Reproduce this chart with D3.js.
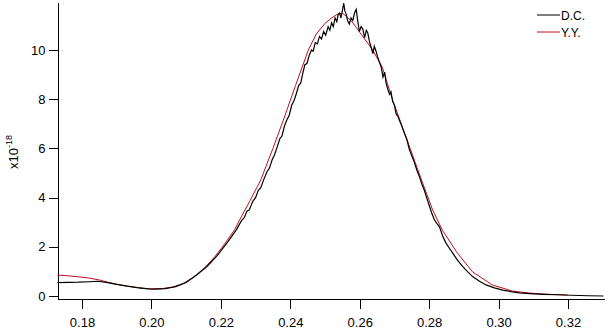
<!DOCTYPE html>
<html>
<head>
<meta charset="utf-8">
<script src="https://cdn.jsdelivr.net/npm/d3@7"></script>
<style>
  body { margin: 0; background: #fff; }
  svg { display: block; font-family: "Liberation Sans", Arial, sans-serif; }
  .axis path, .axis line { stroke: #000; shape-rendering: crispEdges; }
  .axis text { fill: #000; font-size: 13px; }
</style>
</head>
<body>
<svg id="chart"></svg>
<script>
const xTicks = [0.18, 0.20, 0.22, 0.24, 0.26, 0.28, 0.30, 0.32];
const yTicks = [0, 2, 4, 6, 8, 10];

// D.C. (black, noisy)
const dcX = [0.1729, 0.176, 0.179, 0.182, 0.1845, 0.187, 0.190, 0.193, 0.196, 0.199,
  0.201, 0.204, 0.207, 0.210, 0.213, 0.216, 0.219, 0.222, 0.2245, 0.2259,
  0.2268, 0.2275, 0.2282, 0.2292, 0.2300, 0.2308, 0.2315, 0.2324, 0.2333, 0.2340,
  0.2348, 0.2355, 0.2362, 0.2370, 0.2376, 0.2383, 0.2390, 0.2397, 0.2404, 0.2411,
  0.2418, 0.2424, 0.2430, 0.2436, 0.2442, 0.2448, 0.2455, 0.2461, 0.2466, 0.2472,
  0.2478, 0.2484, 0.2490, 0.2496, 0.2502, 0.2509, 0.2514, 0.2519, 0.2524, 0.2529,
  0.2534, 0.2538, 0.2542, 0.2546, 0.2550, 0.2554, 0.2557, 0.2561, 0.2565, 0.2570,
  0.2575, 0.2580, 0.2585, 0.2590, 0.2594, 0.2599, 0.2604, 0.2609, 0.2614, 0.2619,
  0.2623, 0.2628, 0.2633, 0.2638, 0.2642, 0.2647, 0.2652, 0.2657, 0.2662, 0.2667,
  0.2672, 0.2676, 0.2681, 0.2686, 0.2690, 0.2695, 0.2700, 0.2705, 0.2710, 0.2714,
  0.2720, 0.2729, 0.2736, 0.2743, 0.2750, 0.2758, 0.2765, 0.2772, 0.2779, 0.2786,
  0.2794, 0.2801, 0.2808, 0.2815, 0.2822, 0.2830, 0.2840, 0.2849, 0.2858, 0.2868,
  0.2882, 0.2897, 0.2912, 0.2926, 0.2945, 0.2964, 0.2988, 0.3012, 0.3036, 0.3060,
  0.3089, 0.3130, 0.3170, 0.3210, 0.3260, 0.3302];
const dcY = [0.54, 0.55, 0.56, 0.58, 0.60, 0.55, 0.47, 0.40, 0.34, 0.29,
  0.28, 0.30, 0.38, 0.55, 0.85, 1.2, 1.65, 2.2, 2.7, 3.05,
  3.2, 3.45, 3.5, 3.85, 4.0, 4.3, 4.4, 4.75, 5.05, 5.2,
  5.55, 5.75, 6.05, 6.4, 6.5, 6.9, 7.15, 7.35, 7.75, 7.95,
  8.25, 8.55, 8.65, 9.05, 9.4, 9.45, 9.8, 10.0, 9.95, 10.3,
  10.25, 10.55, 10.45, 10.75, 10.6, 10.95, 10.8, 11.1, 10.95, 11.3,
  11.15, 11.45, 11.5, 11.3, 11.6, 11.9, 11.6, 11.45, 11.2, 11.05,
  11.3, 11.2, 11.5, 11.65, 11.2, 10.75, 10.95, 10.85, 10.5, 10.8,
  10.7, 10.35, 10.1, 9.85, 10.15, 9.95, 9.7, 9.5, 9.3, 8.9,
  9.1, 8.65, 8.4, 8.2, 8.3, 7.9, 7.75, 7.4, 7.3, 7.15,
  6.95, 6.6, 6.35, 5.95, 5.7, 5.4, 5.1, 4.85, 4.55, 4.3,
  3.95, 3.65, 3.35, 3.1, 2.95, 2.8, 2.4, 2.14, 1.95, 1.74,
  1.45, 1.19, 0.97, 0.78, 0.6, 0.45, 0.33, 0.24, 0.18, 0.13,
  0.10, 0.07, 0.05, 0.03, 0.01, 0.0];

// Y.Y. (red, smooth)
const yyX = [0.1729, 0.176, 0.179, 0.182, 0.185, 0.188, 0.191, 0.194, 0.197, 0.200,
  0.203, 0.206, 0.209, 0.212, 0.215, 0.218, 0.221, 0.224, 0.2254, 0.2285,
  0.2315, 0.235, 0.238, 0.2415, 0.2452, 0.2475, 0.2500, 0.2519, 0.2535, 0.2550,
  0.2575, 0.2601, 0.2635, 0.2665, 0.2694, 0.2735, 0.2781, 0.2810, 0.2838, 0.2879,
  0.2925, 0.2982, 0.3040, 0.3089, 0.3140, 0.3198];
const yyY = [0.85, 0.82, 0.78, 0.73, 0.65, 0.54, 0.45, 0.38, 0.32, 0.29,
  0.30, 0.36, 0.50, 0.75, 1.1, 1.55, 2.1, 2.7, 3.09, 3.9,
  4.72, 6.0, 7.15, 8.55, 10.0, 10.65, 11.08, 11.3, 11.45, 11.5,
  11.2, 10.7, 10.05, 9.3, 8.0, 6.4, 4.6, 3.5, 2.68, 1.79,
  0.98, 0.45, 0.2, 0.12, 0.07, 0.04];

const width = 610, height = 333;
const plotLeft = 57.5, plotRight = 604, plotTop = 2, plotBottom = 299;

const svg = d3.select('#chart')
  .attr('width', width)
  .attr('height', height);

const x = d3.scaleLinear()
  .domain([0.17294, 0.33037])
  .range([plotLeft, plotRight]);

const y = d3.scaleLinear()
  .domain([-0.122, 11.95])
  .range([plotBottom, plotTop]);

svg.append('g')
  .attr('class', 'axis')
  .attr('transform', `translate(0, ${plotBottom})`)
  .call(d3.axisBottom(x).tickValues(xTicks).tickFormat(d3.format('.2f'))
    .tickSizeInner(10).tickSizeOuter(0).tickPadding(9));

svg.append('g')
  .attr('class', 'axis')
  .attr('transform', `translate(${plotLeft}, 0)`)
  .call(d3.axisLeft(y).tickValues(yTicks).tickFormat(d3.format('d'))
    .tickSizeInner(9).tickSizeOuter(0).tickPadding(3));

// y unit label
const yLabel = svg.append('text')
  .attr('transform', 'translate(18, 152) rotate(-90)')
  .attr('text-anchor', 'middle')
  .style('font-size', '13px');
yLabel.append('tspan').text('x10');
yLabel.append('tspan').attr('dy', -6).style('font-size', '9px').text('-18');

const line = d3.line()
  .x(d => x(d[0]))
  .y(d => y(d[1]));

svg.append('path')
  .datum(d3.zip(yyX, yyY))
  .attr('fill', 'none')
  .attr('stroke', '#c0101c')
  .attr('stroke-width', 1)
  .attr('d', line);

svg.append('path')
  .datum(d3.zip(dcX, dcY))
  .attr('fill', 'none')
  .attr('stroke', '#000')
  .attr('stroke-width', 1.2)
  .attr('d', line);

// legend
const legend = svg.append('g').attr('transform', 'translate(537, 0)');
const items = [{ label: 'D.C.', color: '#000' }, { label: 'Y.Y.', color: '#c0101c' }];
items.forEach((it, i) => {
  const ly = 15 + i * 17;
  legend.append('line')
    .attr('x1', 0).attr('x2', 23)
    .attr('y1', ly).attr('y2', ly)
    .attr('stroke', it.color)
    .attr('stroke-width', 1);
  legend.append('text')
    .attr('x', 24).attr('y', ly + 4.5)
    .style('font-size', '12px')
    .text(it.label);
});
</script>
</body>
</html>
